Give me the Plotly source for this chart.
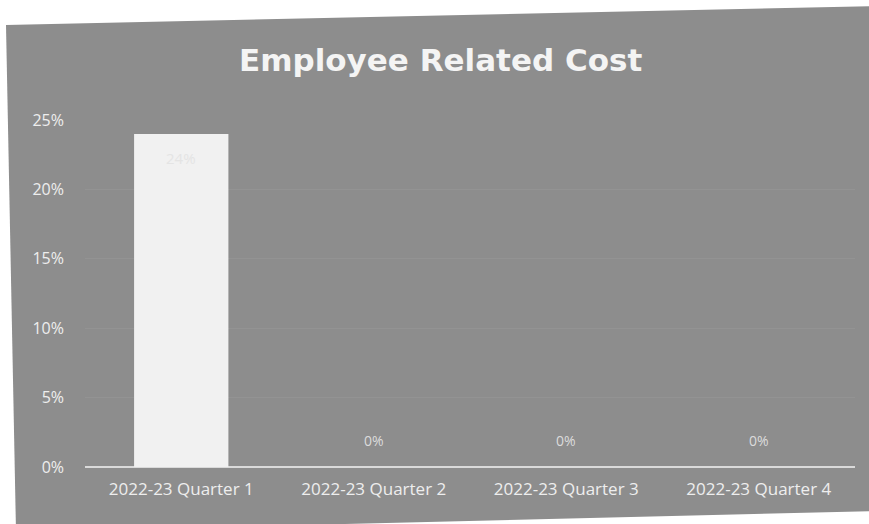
import plotly.graph_objects as go

# Quarterly share of employee related cost
quarters = ["2022-23 Quarter 1", "2022-23 Quarter 2", "2022-23 Quarter 3", "2022-23 Quarter 4"]
share = [0.24, 0.0, 0.0, 0.0]
y_ticks = [0, 0.05, 0.10, 0.15, 0.20, 0.25]
y_tick_text = ["0%", "5%", "10%", "15%", "20%", "25%"]

W, H = 869, 524
ML, MR, MT, MB = 85, 14, 120, 57
PW, PH = W - ML - MR, H - MT - MB


def to_paper(px, py):
    return (px - ML) / PW, (H - MB - py) / PH


# slightly skewed grey card behind the chart
corners = [(6, 25), (880, 6), (880, 511), (16, 532)]
pts = [to_paper(x, y) for x, y in corners]
card_path = "M " + " L ".join(f"{x:.4f},{y:.4f}" for x, y in pts) + " Z"

TXT = "#eeeeee"
FONT = "Open Sans"

fig = go.Figure()
fig.add_trace(go.Bar(
    x=quarters, y=share,
    marker=dict(color="#f1f1f1", line=dict(width=0)),
    width=0.49,
    hoverinfo="skip",
))

annotations = []
for q, v in zip(quarters, share):
    label = f"{v:.0%}"
    if v > 0:
        annotations.append(dict(x=q, y=v, text=label, showarrow=False, yshift=-24,
                                font=dict(family=FONT, size=15, color="#e4e4e4")))
    else:
        annotations.append(dict(x=q, y=v, text=label, showarrow=False, yshift=27,
                                font=dict(family=FONT, size=14, color="#dcdcdc")))

tx, ty = to_paper(440, 60)
annotations.append(dict(xref="paper", yref="paper", x=tx, y=ty,
                        xanchor="center", yanchor="middle",
                        text="<b>Employee Related Cost</b>", showarrow=False,
                        font=dict(family="DejaVu Sans", size=31, color="#f4f4f4")))

fig.update_layout(
    width=W, height=H,
    margin=dict(l=ML, r=MR, t=MT, b=MB),
    paper_bgcolor="#ffffff",
    plot_bgcolor="rgba(0,0,0,0)",
    showlegend=False,
    annotations=annotations,
    shapes=[dict(type="path", xref="paper", yref="paper", path=card_path,
                 fillcolor="#8d8d8d", line=dict(width=0), layer="below")],
    xaxis=dict(
        showgrid=False, zeroline=False, showline=False,
        tickfont=dict(family=FONT, size=17, color=TXT),
        ticks="", ticklabelstandoff=10,
    ),
    yaxis=dict(
        range=[0, 0.25], tickvals=y_ticks, ticktext=y_tick_text,
        showgrid=True, gridcolor="rgba(255,255,255,0.06)", gridwidth=1,
        zeroline=True, zerolinecolor="#dadada", zerolinewidth=2,
        showline=False, ticks="",
        tickfont=dict(family=FONT, size=16, color=TXT),
        ticklabelstandoff=20,
    ),
)

fig.write_html("out.html")
